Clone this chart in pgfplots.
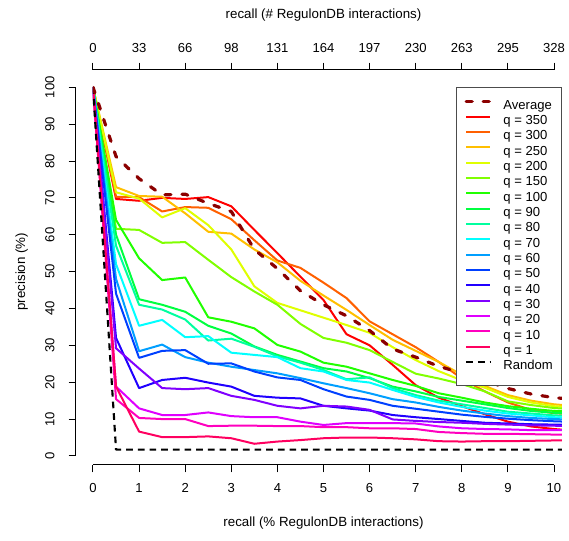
\documentclass[border=0pt]{standalone}
\usepackage{fontspec}
\setmainfont{Liberation Sans}
\usepackage{pgfplots}
\usepackage{pgfplotstable}
\pgfplotsset{compat=1.18}

% rainbow(16) as used by R
\definecolor{c350}{HTML}{FF0000}
\definecolor{c300}{HTML}{FF6000}
\definecolor{c250}{HTML}{FFBF00}
\definecolor{c200}{HTML}{DFFF00}
\definecolor{c150}{HTML}{80FF00}
\definecolor{c100}{HTML}{20FF00}
\definecolor{c90}{HTML}{00FF40}
\definecolor{c80}{HTML}{00FF9F}
\definecolor{c70}{HTML}{00FFFF}
\definecolor{c60}{HTML}{009FFF}
\definecolor{c50}{HTML}{0040FF}
\definecolor{c40}{HTML}{2000FF}
\definecolor{c30}{HTML}{8000FF}
\definecolor{c20}{HTML}{DF00FF}
\definecolor{c10}{HTML}{FF00BF}
\definecolor{c1}{HTML}{FF0060}
\definecolor{avgred}{HTML}{8B0000}

% precision (%) against recall (% RegulonDB interactions)
\pgfplotstableread{
x    q350 q300 q250 q200 q150 q100 q90  q80  q70  q60  q50  q40  q30  q20  q10  q1   avg   rnd
0    100  100  100  100  100  100  100  100  100  100  100  100  100  100  100  100  100   100
0.5  69.7 70.3 72.9 71.5 61.6 64.0 60.0 57.0 52.0 48.0 44.0 32.0 29.2 18.8 15.4 18.8 81.2  1.7
1.0  69.2 70.2 70.5 69.8 61.3 53.6 42.5 41.0 35.3 28.4 26.6 18.4 23.7 12.9 10.3 6.6  75.2  1.7
1.5  70.0 66.3 70.3 64.7 57.8 47.7 41.0 39.7 36.9 30.2 28.5 20.6 18.4 11.1 10.0 5.1  70.8  1.7
2.0  69.7 67.5 65.8 67.2 58.0 48.4 39.1 37.0 32.2 26.8 28.7 21.2 18.1 11.1 10.0 5.1  71.0  1.7
2.5  70.2 67.3 60.8 62.6 53.2 37.6 35.3 31.3 32.5 25.3 25.0 19.9 18.4 11.8 8.1  5.3  68.5  1.7
3.0  67.7 64.2 60.3 56.0 48.5 36.4 33.2 31.8 28.0 24.2 25.1 18.8 16.3 10.8 8.2  4.8  66.3  1.7
3.5  61.3 58.5 56.0 46.0 44.6 34.6 29.7 29.6 27.4 23.3 22.9 16.3 15.2 10.5 8.2  3.3  56.0  1.7
4.0  55.0 53.0 52.5 41.5 41.0 30.1 27.4 27.0 26.8 22.4 21.3 15.8 13.6 10.5 8.1  3.9  50.8  1.7
4.5  48.6 51.0 47.5 39.5 35.8 28.3 25.6 25.3 23.8 21.1 20.6 15.6 12.9 9.3  8.1  4.3  44.8  1.7
5.0  42.3 47.0 43.5 37.5 32.0 25.3 23.8 23.3 22.9 19.7 18.1 13.6 13.6 8.4  7.8  4.8  41.0  1.7
5.5  33.0 42.8 39.6 35.5 30.7 24.2 22.9 20.8 20.6 18.4 16.1 12.9 13.4 8.9  7.8  5.0  38.0  1.7
6.0  30.0 36.5 35.5 33.4 28.7 22.4 21.1 21.3 19.9 17.0 15.2 12.3 12.5 8.9  7.5  5.0  34.0  1.7
6.5  24.7 33.0 31.5 29.5 25.5 20.6 18.8 18.4 17.9 15.4 13.6 11.1 9.9  8.9  7.5  4.8  29.0  1.7
7.0  19.2 29.5 28.5 26.0 22.3 19.0 17.5 16.5 16.0 14.5 12.8 10.5 9.5  8.8  7.3  4.5  26.8  1.7
7.5  15.8 25.5 25.5 23.0 21.0 17.0 16.0 15.0 14.5 13.3 12.0 10.0 9.2  8.0  6.5  4.0  24.3  1.7
8.0  13.5 21.0 22.0 20.5 19.5 15.8 15.0 14.0 13.3 12.3 11.2 9.5  9.0  7.5  6.2  3.9  22.5  1.7
8.5  11.3 17.5 19.0 18.5 17.5 14.5 14.0 13.0 12.3 11.5 10.6 9.0  8.7  7.3  6.0  4.0  20.5  1.7
9.0  9.3  14.5 16.5 16.0 14.8 13.5 13.0 12.0 11.5 10.8 10.1 8.8  8.5  7.2  6.0  4.0  18.3  1.7
9.5  8.0  12.5 15.0 14.5 13.8 12.8 12.2 11.5 11.0 10.3 9.7  8.6  8.3  7.0  5.9  4.1  16.8  1.7
10.0 7.3  11.6 14.0 13.5 13.0 12.2 11.7 11.0 10.5 10.0 9.4  8.5  8.2  7.0  5.8  4.2  15.8  1.7
10.5 6.8  11.2 13.5 13.0 12.6 12.0 11.5 10.8 10.3 9.8  9.2  8.4  8.0  7.0  5.8  4.2  15.3  1.7
}\prdata

\pgfplotsset{
  rfont/.style={font=\fontsize{9.8}{11.5}\selectfont},
  raxis/.style={
    enlargelimits=false,
    axis line style={-, black, line width=0.75pt},
    tick align=outside,
    major tick length=5.6pt,
    tick style={black, line width=0.75pt},
    ticklabel style={rfont, inner sep=0pt},
    label style={rfont},
    /pgf/number format/assume math mode=true,
  },
  avgstyle/.style={avgred, line width=2.4pt, dash pattern=on 4.5pt off 8.25pt, line cap=round},
  rndstyle/.style={black, line width=1.6pt, dash pattern=on 5pt off 3.75pt},
}

\begin{document}
\begin{tikzpicture}
\path (0pt,0pt) rectangle (426.75pt,405.75pt);

% data
\begin{axis}[
  at={(69.75pt,57.15pt)}, anchor=south west,
  x=34.575pt, y=2.7653pt,
  xmin=0, xmax=10.17, ymin=-2.4, ymax=104.7,
  enlargelimits=false,
  hide axis,
  every axis plot/.append style={line width=1.5pt, line join=round},
  legend image code/.code={\draw[#1] (0pt,3.3pt) -- (18pt,3.3pt);},
  legend style={
    at={(1,0.9577)}, anchor=north east,
    draw=black!70, line width=0.6pt, fill=white,
    inner xsep=6.5pt, inner ysep=9.4pt,
    rfont,
    nodes={inner sep=0pt, text height=7.2pt, text depth=2pt, anchor=west},
    row sep=2.3pt, column sep=8.7pt,
  },
  legend cell align=left,
]
\addlegendimage{avgstyle}
\addplot[c350] table[x=x, y=q350] {\prdata};
\addplot[c300] table[x=x, y=q300] {\prdata};
\addplot[c250] table[x=x, y=q250] {\prdata};
\addplot[c200] table[x=x, y=q200] {\prdata};
\addplot[c150] table[x=x, y=q150] {\prdata};
\addplot[c100] table[x=x, y=q100] {\prdata};
\addplot[c90]  table[x=x, y=q90]  {\prdata};
\addplot[c80]  table[x=x, y=q80]  {\prdata};
\addplot[c70]  table[x=x, y=q70]  {\prdata};
\addplot[c60]  table[x=x, y=q60]  {\prdata};
\addplot[c50]  table[x=x, y=q50]  {\prdata};
\addplot[c40]  table[x=x, y=q40]  {\prdata};
\addplot[c30]  table[x=x, y=q30]  {\prdata};
\addplot[c20]  table[x=x, y=q20]  {\prdata};
\addplot[c10]  table[x=x, y=q10]  {\prdata};
\addplot[c1]   table[x=x, y=q1]   {\prdata};
\addplot[rndstyle] table[x=x, y=rnd] {\prdata};
\addplot[avgstyle, forget plot] table[x=x, y=avg] {\prdata};
\legend{Average, q = 350, q = 300, q = 250, q = 200, q = 150, q = 100, q = 90,
  q = 80, q = 70, q = 60, q = 50, q = 40, q = 30, q = 20, q = 10, q = 1, Random}
\end{axis}

% left axis
\begin{axis}[
  raxis,
  at={(57pt,63.75pt)}, anchor=south west,
  x=1pt, y=2.7653pt, xmin=0, xmax=1, ymin=0, ymax=100,
  axis y line*=left, axis x line=none,
  ytick={0,10,...,100},
  yticklabel style={rotate=90, anchor=south},
  yticklabel shift=10.4pt,
  ylabel={precision (\%)},
  every axis y label/.style={at={(axis description cs:0,0.5)}, xshift=-40.7pt, rotate=90, anchor=center},
]
\end{axis}

% bottom axis
\begin{axis}[
  raxis,
  at={(69.75pt,57pt)}, anchor=south west,
  x=34.575pt, y=1pt, xmin=0, xmax=10, ymin=0, ymax=1,
  axis x line*=bottom, axis y line=none,
  xtick={0,1,...,10},
  xticklabel style={anchor=north},
  xticklabel shift=8.1pt,
  xlabel={recall (\% RegulonDB interactions)},
  every axis x label/.style={at={(axis description cs:0.5,0)}, yshift=-43.5pt, anchor=center},
]
\end{axis}

% top axis
\begin{axis}[
  raxis,
  at={(69.75pt,353.25pt)}, anchor=north west,
  x=34.575pt, y=1pt, xmin=0, xmax=10, ymin=0, ymax=1,
  axis x line*=top, axis y line=none,
  xtick pos=right, xticklabel pos=right,
  xtick={0,1,...,10},
  xticklabels={0,33,66,98,131,164,197,230,263,295,328},
  xticklabel style={anchor=south},
  xticklabel shift=7.4pt,
  xlabel={recall (\# RegulonDB interactions)},
  every axis x label/.style={at={(axis description cs:0.5,1)}, yshift=41.25pt, anchor=center},
]
\end{axis}
\end{tikzpicture}
\end{document}
